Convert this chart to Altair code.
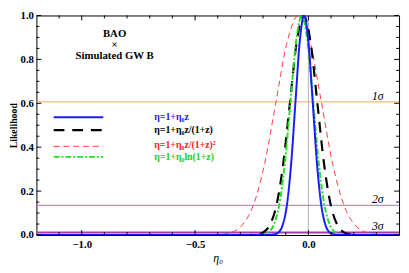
import altair as alt
import pandas as pd

W, H = 370, 224
X_DOMAIN = [-1.2, 0.4]
Y_DOMAIN = [0.0, 1.0]
FONT = "Liberation Serif"

# --- curves ---
blue_eta = [-1.2, -0.171, -0.152, -0.133, -0.114, -0.095, -0.076, -0.057, -0.038, -0.019,
            0.000, 0.019, 0.038, 0.057, 0.076, 0.095, 0.114, 0.133, 0.4]
blue_L = [0, 0, 0.002, 0.011, 0.044, 0.135, 0.325, 0.607, 0.883, 1.0,
          0.883, 0.607, 0.325, 0.135, 0.044, 0.011, 0.002, 0, 0]

black_eta = [-1.2, -0.261, -0.231, -0.201, -0.171, -0.141, -0.111, -0.081, -0.051, -0.021,
             0.009, 0.039, 0.069, 0.099, 0.129, 0.159, 0.189, 0.219, 0.4]
black_L = [0, 0, 0.002, 0.011, 0.044, 0.135, 0.325, 0.607, 0.883, 1.0,
           0.883, 0.607, 0.325, 0.135, 0.044, 0.011, 0.002, 0, 0]

red_eta = [-1.2, -0.443, -0.393, -0.343, -0.293, -0.243, -0.193, -0.143, -0.093, -0.043,
           0.007, 0.057, 0.107, 0.157, 0.207, 0.257, 0.307, 0.357, 0.4]
red_L = [0, 0, 0.002, 0.011, 0.044, 0.135, 0.325, 0.607, 0.883, 1.0,
         0.883, 0.607, 0.325, 0.135, 0.044, 0.011, 0.002, 0, 0]

green_eta = [-1.2, -0.229, -0.204, -0.179, -0.154, -0.129, -0.104, -0.079, -0.054, -0.029,
             -0.004, 0.021, 0.046, 0.071, 0.096, 0.121, 0.146, 0.171, 0.4]
green_L = [0, 0, 0.002, 0.011, 0.044, 0.135, 0.325, 0.607, 0.883, 1.0,
           0.883, 0.607, 0.325, 0.135, 0.044, 0.011, 0.002, 0, 0]

legend_labels = ["η=1+η₀z", "η=1+η₀z/(1+z)", "η=1+η₀z/(1+z)²", "η=1+η₀ln(1+z)"]
legend_y = [0.536, 0.478, 0.412, 0.356]
legend_line_y = [0.536, 0.478, 0.404, 0.356]
legend_x0, legend_x1, legend_tx = -1.124, -0.905, -0.68

sigma_levels = [0.6065, 0.1353, 0.0111]
sigma_labels = ["1σ", "2σ", "3σ"]
sigma_label_y = [0.634, 0.164, 0.042]
sigma_label_x = 0.306
sigma_colors = ["#ffa64d", "#ff40ff", "#a040a0"]
sigma_widths = [1, 1, 2]

anno_lines = ["BAO", "×", "Simulated GW B"]
anno_y = [0.917, 0.866, 0.817]
anno_x = -0.855

x_labels = [-1.0, -0.5, 0.0]
x_minor = [-1.1, -0.9, -0.8, -0.7, -0.6, -0.4, -0.3, -0.2, -0.1, 0.1, 0.2, 0.3]
x_major = [-1.0, -0.5, 0.0]
y_major = [0.0, 0.2, 0.4, 0.6, 0.8, 1.0]
y_minor = [0.05, 0.1, 0.15, 0.25, 0.3, 0.35, 0.45, 0.5, 0.55, 0.65, 0.7, 0.75, 0.85, 0.9, 0.95]

xs = alt.Scale(domain=X_DOMAIN, nice=False, zero=False)
ys = alt.Scale(domain=Y_DOMAIN, nice=False, zero=False)

XAXIS = alt.Axis(values=x_labels, format=".1f", ticks=False, domain=False, grid=False,
                 labelFont=FONT, labelFontSize=11, labelFontWeight="bold", labelPadding=4,
                 titleFont=FONT, titleFontSize=12, titleFontStyle="italic",
                 titleFontWeight="normal", titlePadding=3)
YAXIS = alt.Axis(values=y_major, format=".1f", ticks=False, domain=False, grid=False,
                 labelFont=FONT, labelFontSize=11, labelFontWeight="bold", labelPadding=3,
                 titleFont=FONT, titleFontSize=10, titleFontWeight="bold", titlePadding=2)


def X(f):
    return alt.X(f, scale=xs, axis=XAXIS, title="η₀")


def Y(f):
    return alt.Y(f, scale=ys, axis=YAXIS, title="Likelihood")


series = [
    ("red", red_eta, red_L, "#ff3b3b", [6, 4], 1.0, 2),
    ("black", black_eta, black_L, "#000000", [11, 8], 2.2, 1),
    ("green", green_eta, green_L, "#22e022", [6, 2, 2, 2], 2.0, 3),
    ("blue", blue_eta, blue_L, "#1a1aff", [1, 0], 2.0, 0),
]
text_colors = ["#2222ff", "#000000", "#ff2020", "#22cc22"]

layers = []

# vertical gray line at 0
layers.append(alt.Chart(pd.DataFrame({"x": [0.0], "y": [0.0], "y2": [1.0]})).mark_rule(
    color="#b0b0b0", strokeWidth=1).encode(x=X("x:Q"), y=Y("y:Q"), y2="y2:Q"))

# sigma lines
for lv, c, w in zip(sigma_levels, sigma_colors, sigma_widths):
    layers.append(alt.Chart(pd.DataFrame({"x": [X_DOMAIN[0]], "x2": [X_DOMAIN[1]], "y": [lv]})).mark_rule(
        color=c, strokeWidth=w).encode(x=X("x:Q"), x2="x2:Q", y=Y("y:Q")))

# curves + legend samples
for i, (name, ex, ly, col, dash, sw, li) in enumerate(series):
    df = pd.DataFrame({"eta": ex, "L": ly})
    layers.append(alt.Chart(df).mark_line(color=col, strokeDash=dash, strokeWidth=sw,
                                          interpolate="monotone", clip=True).encode(
        x=X("eta:Q"), y=Y("L:Q")))
    ldf = pd.DataFrame({"x": [legend_x0], "x2": [legend_x1], "y": [legend_line_y[li]]})
    layers.append(alt.Chart(ldf).mark_rule(color=col, strokeDash=dash, strokeWidth=sw).encode(
        x=X("x:Q"), x2="x2:Q", y=Y("y:Q")))

# legend texts
tdf = pd.DataFrame({"t": legend_labels, "y": legend_y, "x": [legend_tx] * 4, "c": text_colors})
layers.append(alt.Chart(tdf).mark_text(font=FONT, fontSize=10, fontWeight="bold", align="left",
                                       baseline="middle").encode(
    x=X("x:Q"), y=Y("y:Q"), text="t:N", color=alt.Color("c:N", scale=None)))

# annotation
adf = pd.DataFrame({"t": anno_lines, "y": anno_y, "x": [anno_x] * 3})
layers.append(alt.Chart(adf).mark_text(font=FONT, fontSize=11, fontWeight="bold", align="center",
                                       baseline="middle", color="black").encode(
    x=X("x:Q"), y=Y("y:Q"), text="t:N"))

# sigma labels
sldf = pd.DataFrame({"t": sigma_labels, "y": sigma_label_y, "x": [sigma_label_x] * 3})
layers.append(alt.Chart(sldf).mark_text(font=FONT, fontSize=12, fontStyle="italic", align="center",
                                        baseline="middle", color="black").encode(
    x=X("x:Q"), y=Y("y:Q"), text="t:N"))


def ticks(vals, orient, length):
    df = pd.DataFrame({"v": vals})
    base = alt.Chart(df).mark_rule(color="black", strokeWidth=1)
    if orient == "bottom":
        return base.encode(x=X("v:Q"), y=alt.value(H), y2=alt.value(H - length))
    if orient == "top":
        return base.encode(x=X("v:Q"), y=alt.value(0), y2=alt.value(length))
    if orient == "left":
        return base.encode(y=Y("v:Q"), x=alt.value(0), x2=alt.value(length))
    return base.encode(y=Y("v:Q"), x=alt.value(W), x2=alt.value(W - length))


for o in ["bottom", "top"]:
    layers.append(ticks(x_major, o, 5))
    layers.append(ticks(x_minor, o, 3))
for o in ["left", "right"]:
    layers.append(ticks(y_major, o, 5))
    layers.append(ticks(y_minor, o, 3))

chart = alt.layer(*layers).properties(
    width=W, height=H,
    autosize=alt.AutoSizeParams(type="none"),
    padding={"left": 29, "top": 5, "right": 2, "bottom": 30},
).configure_view(stroke="black", strokeWidth=1)

chart.save("out.html", embed_options={"renderer": "svg", "actions": False})
